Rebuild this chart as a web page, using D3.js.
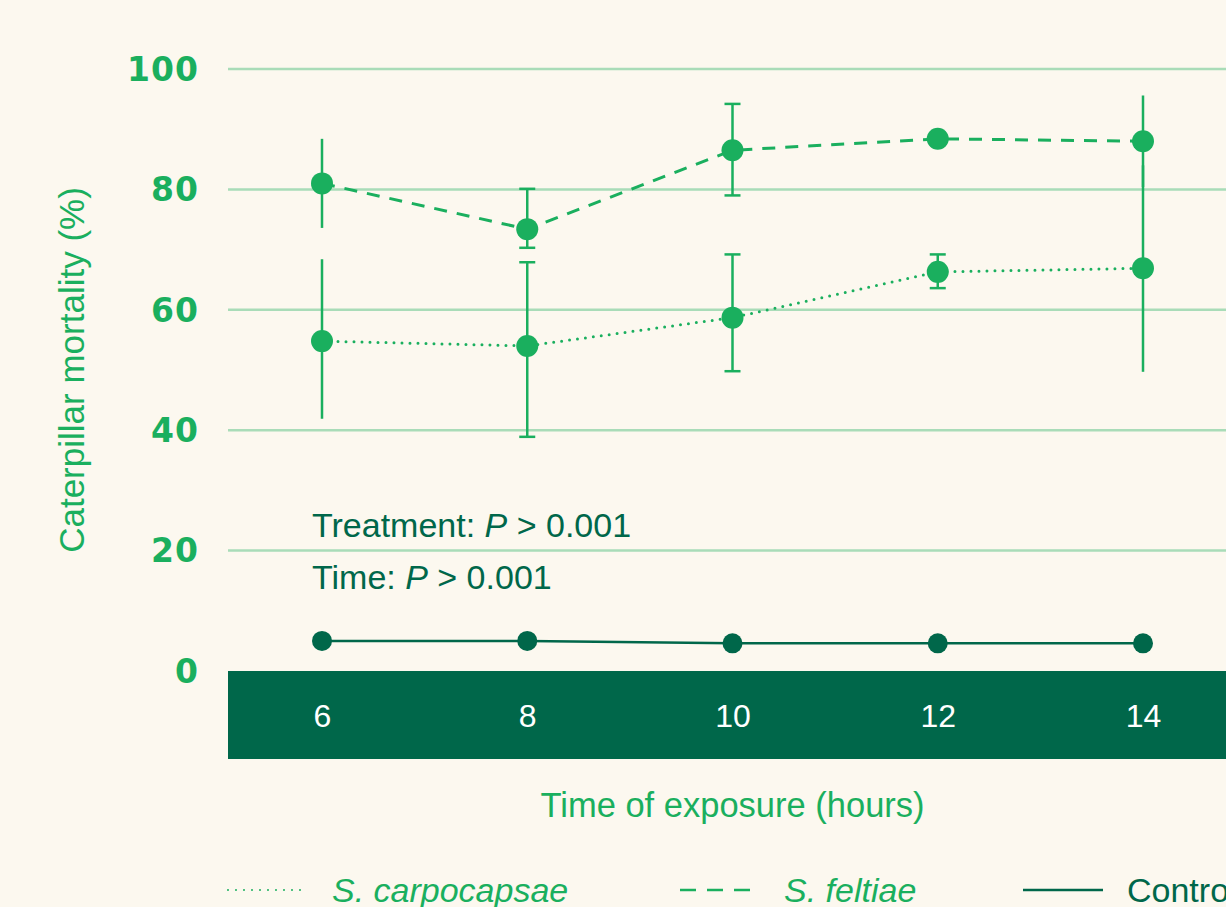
<!DOCTYPE html>
<html>
<head>
<meta charset="utf-8">
<script src="https://cdn.jsdelivr.net/npm/d3@7"></script>
<style>
  html, body { margin: 0; padding: 0; background: #fcf8ef; overflow: hidden; }
  svg { display: block; font-family: "Liberation Sans", Arial, sans-serif; }
</style>
</head>
<body>
<svg id="canvas"></svg>
<script>
let width = 1226;
let height = 907;

// data
let hours = [6, 8, 10, 12, 14];
let carpoMean = [54.8, 54.0, 58.7, 66.3, 66.9];
let carpoLow  = [41.9, 38.9, 49.8, 63.6, 49.7];
let carpoHigh = [68.4, 67.9, 69.2, 69.2, 84.0];
let feltMean  = [81.0, 73.4, 86.5, 88.4, 88.0];
let feltLow   = [73.6, 70.3, 79.0, 87.4, 80.4];
let feltHigh  = [88.4, 80.1, 94.2, 89.4, 95.6];
let controlMean = [5.0, 5.0, 4.6, 4.6, 4.6];
let yTicks = [0, 20, 40, 60, 80, 100];

let green = "#1aaf5e";
let dark = "#00674a";
let grid = "#a9dcb8";

let left = 228;
let bandBottom = 759;

let canvas = d3.select("#canvas")
  .attr("width", width)
  .attr("height", height);

let xScale = d3.scaleLinear().domain([6, 14]).range([322, 1143]);
let yScale = d3.scaleLinear().domain([0, 100]).range([671, 69]);

let series = [
  { name: "S. carpocapsae", mean: carpoMean, low: carpoLow, high: carpoHigh, color: green, dash: "0,8", cap: "round", width: 3 },
  { name: "S. feltiae", mean: feltMean, low: feltLow, high: feltHigh, color: green, dash: "13,10", cap: "butt", width: 3 },
  { name: "Control", mean: controlMean, low: null, high: null, color: dark, dash: null, cap: "butt", width: 2.5 }
];

// gridlines
canvas.append("g").selectAll("line")
  .data(yTicks.filter(d => d > 0))
  .enter().append("line")
  .attr("x1", left).attr("x2", width)
  .attr("y1", d => yScale(d)).attr("y2", d => yScale(d))
  .attr("stroke", grid).attr("stroke-width", 2.5);

// y tick labels
canvas.append("g").selectAll("text")
  .data(yTicks)
  .enter().append("text")
  .attr("x", 199)
  .attr("y", d => yScale(d))
  .attr("dy", "0.36em")
  .attr("text-anchor", "end")
  .attr("fill", green)
  .style("font-family", "'DejaVu Sans', sans-serif")
  .style("font-weight", 700)
  .style("font-size", "33px")
  .style("letter-spacing", "1px")
  .text(d => d);

// x band + axis
canvas.append("rect")
  .attr("x", left).attr("y", yScale(0))
  .attr("width", width - left).attr("height", bandBottom - yScale(0))
  .attr("fill", dark);

let xAxis = d3.axisBottom(xScale).tickValues(hours).tickSize(0).tickPadding(0);
let xg = canvas.append("g")
  .attr("transform", "translate(0," + (yScale(0) + 45) + ")")
  .call(xAxis);
xg.select(".domain").remove();
xg.selectAll("text")
  .attr("fill", "#ffffff")
  .attr("dy", "0.35em")
  .style("font-family", "'Liberation Sans', Arial, sans-serif")
  .style("font-size", "32px");

// axis titles
canvas.append("text")
  .attr("transform", "translate(84," + yScale(50) + ") rotate(-90)")
  .attr("text-anchor", "middle")
  .attr("fill", green)
  .style("font-size", "35px")
  .text("Caterpillar mortality (%)");

canvas.append("text")
  .attr("x", xScale(10)).attr("y", 805)
  .attr("dy", "0.35em")
  .attr("text-anchor", "middle")
  .attr("fill", green)
  .style("font-size", "34.5px")
  .text("Time of exposure (hours)");

// annotation
let note = canvas.append("g").attr("fill", dark).style("font-size", "34px");
let t1 = note.append("text").attr("x", 312).attr("y", 537);
t1.append("tspan").text("Treatment: ");
t1.append("tspan").style("font-style", "italic").text("P");
t1.append("tspan").text(" > 0.001");
let t2 = note.append("text").attr("x", 312).attr("y", 589);
t2.append("tspan").text("Time: ");
t2.append("tspan").style("font-style", "italic").text("P");
t2.append("tspan").text(" > 0.001");

// error bars
series.filter(s => s.low).forEach(s => {
  let g = canvas.append("g").attr("stroke", s.color).attr("stroke-width", 2.5);
  hours.forEach((h, i) => {
    let x = xScale(h);
    g.append("line")
      .attr("x1", x).attr("x2", x)
      .attr("y1", yScale(s.low[i])).attr("y2", yScale(s.high[i]));
    if (i > 0 && i < hours.length - 1) {
      [s.low[i], s.high[i]].forEach(v => {
        g.append("line")
          .attr("x1", x - 8).attr("x2", x + 8)
          .attr("y1", yScale(v)).attr("y2", yScale(v));
      });
    }
  });
});

// lines
let line = d3.line()
  .x((d, i) => xScale(hours[i]))
  .y(d => yScale(d));

series.forEach(s => {
  canvas.append("path")
    .datum(s.mean)
    .attr("d", line)
    .attr("fill", "none")
    .attr("stroke", s.color)
    .attr("stroke-width", s.width)
    .attr("stroke-linecap", s.cap)
    .attr("stroke-dasharray", s.dash);
});

// dots
series.forEach(s => {
  canvas.append("g").selectAll("circle")
    .data(s.mean)
    .enter().append("circle")
    .attr("cx", (d, i) => xScale(hours[i]))
    .attr("cy", d => yScale(d))
    .attr("r", s.name === "Control" ? 10 : 11)
    .attr("fill", s.color);
});

// legend
let legendX = [228, 680, 1023];
let legend = canvas.append("g").attr("transform", "translate(0,890)");
series.forEach((s, i) => {
  let g = legend.append("g").attr("transform", "translate(" + legendX[i] + ",0)");
  g.append("line")
    .attr("x1", 0).attr("x2", 80)
    .attr("stroke", s.color)
    .attr("stroke-width", s.name === "S. carpocapsae" ? 2 : 2.5)
    .attr("stroke-linecap", s.cap)
    .attr("stroke-dasharray", s.name === "S. carpocapsae" ? "0,8" : (s.dash ? "16,11" : null));
  g.append("text")
    .attr("x", 104)
    .attr("dy", "0.35em")
    .attr("fill", s.color)
    .style("font-size", "34px")
    .style("font-style", s.name === "Control" ? "normal" : "italic")
    .text(s.name);
});
</script>
</body>
</html>
